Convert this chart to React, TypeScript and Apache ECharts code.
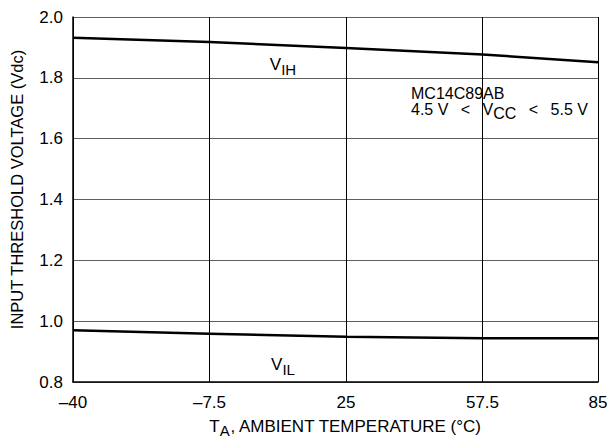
import React, { useEffect, useRef } from "react";
import * as echarts from "echarts";

const xTicks = [-40, -7.5, 25, 57.5, 85];
const yTicks = [0.8, 1.0, 1.2, 1.4, 1.6, 1.8, 2.0];
const vihData: [number, number][] = [[-40, 1.932], [-7.5, 1.918], [25, 1.898], [57.5, 1.877], [85, 1.851]];
const vilData: [number, number][] = [[-40, 0.970], [-7.5, 0.959], [25, 0.949], [57.5, 0.944], [85, 0.944]];
const yAxisTitle = "INPUT THRESHOLD VOLTAGE (Vdc)";
const xAxisTitle = "T{sub|A}, AMBIENT TEMPERATURE (°C)";
const noteLabel = "{t|MC14C89AB}\n{t|4.5 V \u2002<\u2002 V}{sub|CC}{t| \u2002<\u2002 5.5 V}";

const FONT = "'Liberation Sans', Arial, sans-serif";

export default function App() {
  const ref = useRef<HTMLDivElement>(null);
  useEffect(() => {
    if (!ref.current) return;
    const chart = echarts.init(ref.current, undefined, { renderer: "svg" });
    const subStyle = { fontSize: 15, fontFamily: FONT, color: "#000", padding: [10, 0, 0, 0] };
    chart.setOption({
      animation: false,
      backgroundColor: "#fff",
      textStyle: { fontFamily: FONT, color: "#000" },
      grid: { left: 73, right: 15, top: 17, bottom: 60, containLabel: false },
      xAxis: {
        type: "value",
        min: xTicks[0],
        max: xTicks[xTicks.length - 1],
        interval: 32.5,
        axisLine: { show: true, onZero: false, lineStyle: { color: "#000", width: 1.5 } },
        axisTick: { show: false },
        axisLabel: {
          color: "#000",
          fontSize: 17,
          fontFamily: FONT,
          margin: 12,
          formatter: (v: number) => String(v).replace("-", "\u2013"),
        },
        splitLine: { show: true, lineStyle: { color: "#000", width: 1 } },
        name: xAxisTitle,
        nameLocation: "middle",
        nameGap: 33,
        nameTextStyle: {
          color: "#000",
          fontSize: 17,
          fontFamily: FONT,
          padding: [0, 0, 0, 20],
          rich: { sub: { ...subStyle, fontSize: 15, padding: [8, 0, 0, 0] } },
        },
      },
      yAxis: {
        type: "value",
        min: yTicks[0],
        max: yTicks[yTicks.length - 1],
        interval: 0.2,
        axisLine: { show: true, onZero: false, lineStyle: { color: "#000", width: 1.5 } },
        axisTick: { show: false },
        axisLabel: {
          color: "#000",
          fontSize: 17,
          fontFamily: FONT,
          margin: 10,
          formatter: (v: number) => v.toFixed(1),
        },
        splitLine: { show: true, lineStyle: { color: "#606060", width: 1 } },
        name: yAxisTitle,
        nameLocation: "middle",
        nameGap: 48,
        nameRotate: 90,
        nameTextStyle: { color: "#000", fontSize: 16.5, fontFamily: FONT, padding: [0, 0, 0, 20] },
      },
      series: [
        {
          type: "line",
          name: "VIH",
          data: vihData,
          showSymbol: false,
          symbol: "none",
          lineStyle: { color: "#000", width: 2.5 },
          markPoint: {
            symbol: "circle",
            symbolSize: 0,
            data: [{ coord: [10, 1.845], value: 0 }],
            label: {
              show: true,
              position: "inside",
              formatter: "V{sub|IH}",
              color: "#000",
              fontSize: 17,
              fontFamily: FONT,
              rich: { sub: subStyle },
            },
          },
        },
        {
          type: "line",
          name: "VIL",
          data: vilData,
          showSymbol: false,
          symbol: "none",
          lineStyle: { color: "#000", width: 2.5 },
          markPoint: {
            symbol: "circle",
            symbolSize: 0,
            data: [{ coord: [10, 0.858], value: 0 }],
            label: {
              show: true,
              position: "inside",
              formatter: "V{sub|IL}",
              color: "#000",
              fontSize: 17,
              fontFamily: FONT,
              rich: { sub: subStyle },
            },
          },
        },
      ],
      graphic: [
        {
          type: "text",
          left: 411,
          top: 85,
          style: {
            text: noteLabel,
            fill: "#000",
            fontSize: 16,
            fontFamily: FONT,
            rich: {
              t: { fontSize: 16, fontFamily: FONT, fill: "#000", lineHeight: 16 },
              sub: { fontSize: 16, fontFamily: FONT, fill: "#000", lineHeight: 16, padding: [8, 0, 0, 0] },
            },
          },
        },
      ],
    });
    return () => chart.dispose();
  }, []);
  return <div ref={ref} style={{ width: 613, height: 443, position: "absolute", left: 0, top: 0 }} />;
}
